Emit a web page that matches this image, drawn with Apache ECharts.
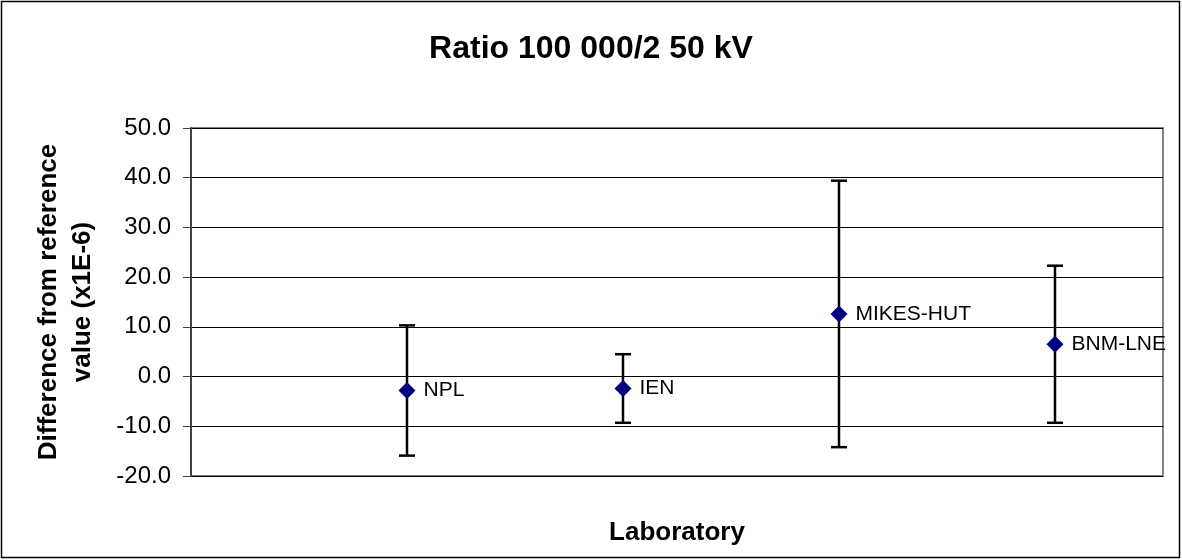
<!DOCTYPE html>
<html>
<head>
<meta charset="utf-8">
<script src="https://cdn.jsdelivr.net/npm/echarts@6/dist/echarts.min.js"></script>
<style>
html,body{margin:0;padding:0;background:#fff;}
#chart{width:1182px;height:560px;}
</style>
</head>
<body>
<div id="chart"></div>
<script>
const labs = ['NPL', 'IEN', 'MIKES-HUT', 'BNM-LNE'];
const xPos = [1, 2, 3, 4];
const diffs = [-2.8, -2.4, 12.6, 6.5];
const uncert = [13.1, 6.9, 26.8, 15.8];
const yTicks = [-20, -10, 0, 10, 20, 30, 40, 50];

const FONT = 'Arial, "Liberation Sans", sans-serif';
const chart = echarts.init(document.getElementById('chart'));

const pointData = labs.map((l, i) => ({ value: [xPos[i], diffs[i]], name: l }));
const barData = labs.map((l, i) => [xPos[i], diffs[i] - uncert[i], diffs[i] + uncert[i]]);

chart.setOption({
  animation: false,
  backgroundColor: '#fff',
  title: {
    text: 'Ratio 100 000/2 50 kV',
    left: 'center',
    top: 28,
    textStyle: { fontFamily: FONT, fontWeight: 'bold', fontSize: 32, color: '#000' }
  },
  grid: {
    left: 191, top: 128, width: 972, height: 348,
    show: true, borderColor: '#808080', borderWidth: 2, backgroundColor: '#fff'
  },
  xAxis: {
    type: 'value', min: 0, max: 4.5,
    name: 'Laboratory', nameLocation: 'middle', nameGap: 44,
    nameTextStyle: { fontFamily: FONT, fontWeight: 'bold', fontSize: 26, color: '#000' },
    axisLine: { show: false }, axisTick: { show: false }, axisLabel: { show: false },
    splitLine: { show: false }
  },
  yAxis: {
    type: 'value', min: yTicks[0], max: yTicks[yTicks.length - 1], interval: 10,
    axisLine: { show: true, lineStyle: { color: '#404040', width: 2 } },
    axisTick: { show: true, length: 8, lineStyle: { color: '#404040', width: 1 } },
    axisLabel: {
      margin: 20, fontFamily: FONT, fontSize: 24, color: '#000',
      formatter: v => v.toFixed(1)
    },
    splitLine: { show: true, lineStyle: { color: '#000', width: 1 } }
  },
  graphic: [
    {
      type: 'rect', silent: true, z: -10,
      shape: { x: 1.5, y: 1.5, width: 1178, height: 556 },
      style: { fill: 'none', stroke: '#000', lineWidth: 1.5 }
    },
    {
      type: 'text', x: 66, y: 302, rotation: Math.PI / 2,
      style: {
        text: 'Difference from reference\nvalue (x1E-6)',
        fontFamily: FONT, fontWeight: 'bold', fontSize: 26, lineHeight: 34,
        fill: '#000', align: 'center', verticalAlign: 'middle'
      }
    }
  ],
  series: [
    {
      type: 'custom',
      data: barData,
      z: 2,
      renderItem: function (params, api) {
        const x = api.value(0);
        const lo = api.coord([x, api.value(1)]);
        const hi = api.coord([x, api.value(2)]);
        const cap = 8;
        const st = { stroke: '#000', lineWidth: 2.5 };
        return {
          type: 'group',
          children: [
            { type: 'line', shape: { x1: lo[0], y1: lo[1], x2: hi[0], y2: hi[1] }, style: st },
            { type: 'line', shape: { x1: lo[0] - cap, y1: lo[1], x2: lo[0] + cap, y2: lo[1] }, style: st },
            { type: 'line', shape: { x1: hi[0] - cap, y1: hi[1], x2: hi[0] + cap, y2: hi[1] }, style: st }
          ]
        };
      }
    },
    {
      type: 'scatter',
      data: pointData,
      z: 3,
      symbol: 'diamond',
      symbolSize: 17,
      itemStyle: { color: '#000080', opacity: 1 },
      label: {
        show: true, position: 'right', distance: 8,
        formatter: p => p.name,
        fontFamily: FONT, fontSize: 21, color: '#000', opacity: 1
      }
    }
  ]
});
</script>
</body>
</html>
